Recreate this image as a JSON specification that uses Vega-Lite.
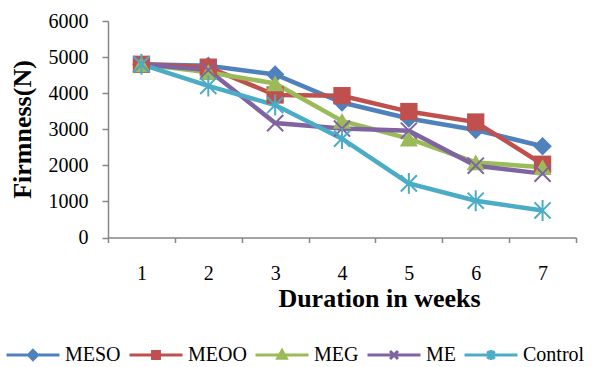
{
  "$schema": "https://vega.github.io/schema/vega-lite/v6.json",
  "autosize": "none",
  "width": 468,
  "height": 216.5,
  "padding": {"left": 108, "top": 21, "right": 16, "bottom": 129.5},
  "background": "white",
  "config": {
    "view": {"stroke": null},
    "font": "Liberation Serif",
    "axis": {"grid": false, "domainColor": "#868686", "tickColor": "#868686", "domainWidth": 1.5, "tickWidth": 1.5, "labelColor": "black", "titleColor": "black", "labelFont": "Liberation Serif", "titleFont": "Liberation Serif", "labelFontSize": 20, "titleFontSize": 26, "titleFontWeight": "bold"},
    "legend": {"padding": 0},
    "point": {"opacity": 1}
  },
  "data": {"values": [
    {"week": "1", "series": "MESO", "value": 4800},
    {"week": "2", "series": "MESO", "value": 4760},
    {"week": "3", "series": "MESO", "value": 4520},
    {"week": "4", "series": "MESO", "value": 3740},
    {"week": "5", "series": "MESO", "value": 3300},
    {"week": "6", "series": "MESO", "value": 2980},
    {"week": "7", "series": "MESO", "value": 2530},
    {"week": "1", "series": "MEOO", "value": 4800},
    {"week": "2", "series": "MEOO", "value": 4720},
    {"week": "3", "series": "MEOO", "value": 3950},
    {"week": "4", "series": "MEOO", "value": 3930},
    {"week": "5", "series": "MEOO", "value": 3490},
    {"week": "6", "series": "MEOO", "value": 3200},
    {"week": "7", "series": "MEOO", "value": 2030},
    {"week": "1", "series": "MEG", "value": 4800},
    {"week": "2", "series": "MEG", "value": 4580},
    {"week": "3", "series": "MEG", "value": 4270},
    {"week": "4", "series": "MEG", "value": 3230},
    {"week": "5", "series": "MEG", "value": 2740},
    {"week": "6", "series": "MEG", "value": 2080},
    {"week": "7", "series": "MEG", "value": 1950},
    {"week": "1", "series": "ME", "value": 4800},
    {"week": "2", "series": "ME", "value": 4640},
    {"week": "3", "series": "ME", "value": 3170},
    {"week": "4", "series": "ME", "value": 3020},
    {"week": "5", "series": "ME", "value": 2960},
    {"week": "6", "series": "ME", "value": 1990},
    {"week": "7", "series": "ME", "value": 1770},
    {"week": "1", "series": "Control", "value": 4800},
    {"week": "2", "series": "Control", "value": 4200},
    {"week": "3", "series": "Control", "value": 3670},
    {"week": "4", "series": "Control", "value": 2740},
    {"week": "5", "series": "Control", "value": 1500},
    {"week": "6", "series": "Control", "value": 1020},
    {"week": "7", "series": "Control", "value": 750}
  ]},
  "encoding": {
    "x": {"field": "week", "type": "ordinal", "sort": null,
      "scale": {"type": "band", "paddingInner": 0, "paddingOuter": 0},
      "axis": {"title": "Duration in weeks", "labelAngle": 0, "tickBand": "extent", "tickSize": 5, "labelBaseline": "middle", "labelPadding": 31, "titleX": 271, "titleY": 61, "titleAnchor": null, "titleAlign": "center", "titleBaseline": "middle"}},
    "y": {"field": "value", "type": "quantitative",
      "scale": {"domain": [0, 6000], "nice": false},
      "axis": {"title": "Firmness(N)", "format": "d", "values": [0, 1000, 2000, 3000, 4000, 5000, 6000], "tickSize": 6, "labelPadding": 14, "titleX": -86, "titleY": 108, "titleAnchor": null, "titleAlign": "center", "titleBaseline": "middle", "titleAngle": 270}},
    "color": {"field": "series", "type": "nominal",
      "scale": {"domain": ["MESO", "MEOO", "MEG", "ME", "Control"], "range": ["#4F81BD", "#C0504D", "#9BBB59", "#8064A2", "#4BACC6"]},
      "legend": {"orient": "none", "legendX": -103, "legendY": 306, "direction": "horizontal", "columns": 5, "gridAlign": "none", "title": null,
        "symbolSize": 2809, "labelFontSize": 20, "labelFont": "Liberation Serif", "labelColor": "black", "labelOffset": 4, "columnPadding": 2, "symbolStrokeWidth": 3,
        "encode": {"symbols": {"update": {
          "shape": {"signal": "datum.value === 'MESO' ? 'M-1,0H1M0,-0.17L0.17,0L0,0.17L-0.17,0Z' : datum.value === 'MEOO' ? 'M-1,0H1M-0.13,-0.13H0.13V0.13H-0.13Z' : datum.value === 'MEG' ? 'M-1,0H1M0,-0.17L0.16,0.12L-0.16,0.12Z' : datum.value === 'ME' ? 'M-1,0H1M-0.15,-0.15L0.15,0.15M-0.15,0.15L0.15,-0.15' : 'M-1,0H1M-0.14,-0.14L0.14,0.14M-0.14,0.14L0.14,-0.14M0,-0.19L0,0.19'"},
          "size": {"value": 2809},
          "fill": {"signal": "scale('color', datum.value)"},
          "stroke": {"signal": "scale('color', datum.value)"},
          "strokeWidth": {"value": 3},
          "opacity": {"value": 1}
        }}}
      }}
  },
  "layer": [
    {"mark": {"type": "line", "strokeWidth": 4.5}},
    {"transform": [{"filter": {"field": "series", "equal": "MESO"}}], "mark": {"type": "point", "shape": "diamond", "filled": true, "size": 340}},
    {"transform": [{"filter": {"field": "series", "equal": "MEOO"}}], "mark": {"type": "point", "shape": "square", "filled": true, "size": 300}},
    {"transform": [{"filter": {"field": "series", "equal": "MEG"}}], "mark": {"type": "point", "shape": "triangle-up", "filled": true, "size": 330}},
    {"transform": [{"filter": {"field": "series", "equal": "ME"}}], "mark": {"type": "point", "shape": "M-1,-1L1,1M-1,1L1,-1", "filled": false, "strokeWidth": 2, "size": 260}},
    {"transform": [{"filter": {"field": "series", "equal": "Control"}}], "mark": {"type": "point", "shape": "M-1,-1L1,1M-1,1L1,-1M0,-1.3L0,1.3", "filled": false, "strokeWidth": 2, "size": 260}}
  ]
}
